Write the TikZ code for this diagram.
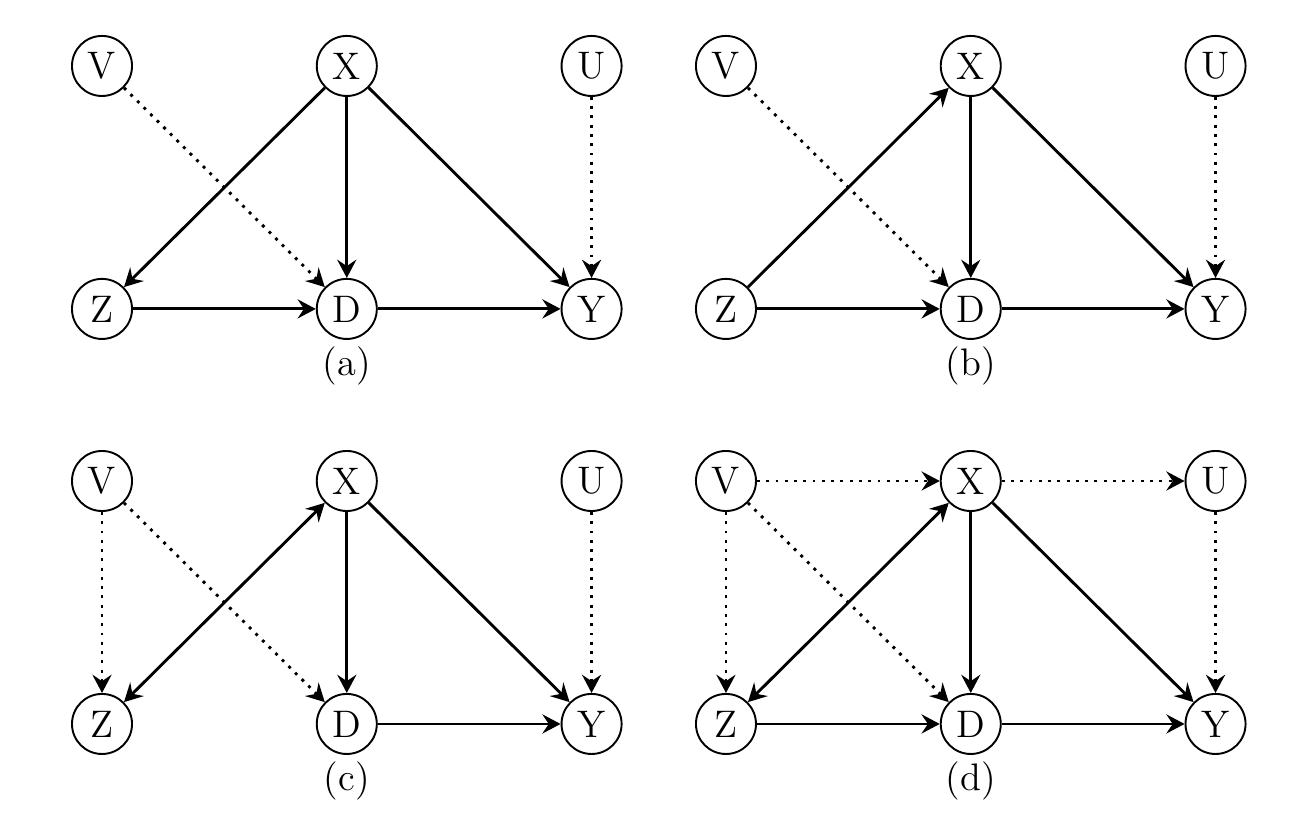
\documentclass[tikz,border=0pt]{standalone}
\usepackage{tikz}
\usetikzlibrary{arrows.meta,positioning}

\begin{document}
\begin{tikzpicture}[
        node distance=2.67cm and 2.69cm, on grid, font=\large,
        var/.style={draw,circle,semithick,minimum size=6.6mm,inner sep=0.5pt},
        seta/.style={-{Stealth[length=2mm,width=2.1mm,inset=0.7mm]},line width=0.9pt},
        dupla/.style={{Stealth[length=2mm,width=2.1mm,inset=0.7mm]}-{Stealth[length=2mm,width=2.1mm,inset=0.7mm]},line width=0.9pt},
        ponto/.style={seta,dotted}]
      \useasboundingbox (0,0) rectangle (14.462,8.967);
      % (a)
      \node[var] (Va) at (1.121,8.242) {V};
      \node[var,right=of Va] (Xa) {X};
      \node[var,right=of Xa] (Ua) {U};
      \node[var,below=of Va] (Za) {Z};
      \node[var,below=of Xa] (Da) {D};
      \node[var,below=of Ua] (Ya) {Y};
      \node[below=0.63cm of Da] (la) {(a)};
      \draw[seta](Xa)--(Za);\draw[seta](Xa)--(Da);\draw[seta](Xa)--(Ya);
      \draw[seta](Za)--(Da);\draw[seta](Da)--(Ya);
      \draw[ponto](Va)--(Da);\draw[ponto](Ua)--(Ya);
      % (b)
      \node[var] (Vb) at (7.978,8.242) {V};
      \node[var,right=of Vb] (Xb) {X};
      \node[var,right=of Xb] (Ub) {U};
      \node[var,below=of Vb] (Zb) {Z};
      \node[var,below=of Xb] (Db) {D};
      \node[var,below=of Ub] (Yb) {Y};
      \node[below=0.63cm of Db] (lb) {(b)};
      \draw[seta](Zb)--(Xb);\draw[seta](Xb)--(Db);\draw[seta](Xb)--(Yb);
      \draw[seta](Zb)--(Db);\draw[seta](Db)--(Yb);
      \draw[ponto](Vb)--(Db);\draw[ponto](Ub)--(Yb);
      % (c)
      \node[var] (Vc) at (1.121,3.681) {V};
      \node[var,right=of Vc] (Xc) {X};
      \node[var,right=of Xc] (Uc) {U};
      \node[var,below=of Vc] (Zc) {Z};
      \node[var,below=of Xc] (Dc) {D};
      \node[var,below=of Uc] (Yc) {Y};
      \node[below=0.63cm of Dc] (lc) {(c)};
      \draw[dupla](Zc)--(Xc);\draw[seta](Xc)--(Dc);\draw[seta](Xc)--(Yc);
      \draw[seta](Dc)--(Yc);
      \draw[ponto](Vc)--(Zc);\draw[ponto](Vc)--(Dc);\draw[ponto](Uc)--(Yc);
      % (d)
      \node[var] (Vd) at (7.978,3.681) {V};
      \node[var,right=of Vd] (Xd) {X};
      \node[var,right=of Xd] (Ud) {U};
      \node[var,below=of Vd] (Zd) {Z};
      \node[var,below=of Xd] (Dd) {D};
      \node[var,below=of Ud] (Yd) {Y};
      \node[below=0.63cm of Dd] (ld) {(d)};
      \draw[dupla](Zd)--(Xd);\draw[seta](Xd)--(Dd);\draw[seta](Xd)--(Yd);
      \draw[seta](Zd)--(Dd);\draw[seta](Dd)--(Yd);
      \draw[ponto](Vd)--(Xd);\draw[ponto](Xd)--(Ud);
      \draw[ponto](Vd)--(Zd);\draw[ponto](Vd)--(Dd);\draw[ponto](Ud)--(Yd);
    \end{tikzpicture}
\end{document}
